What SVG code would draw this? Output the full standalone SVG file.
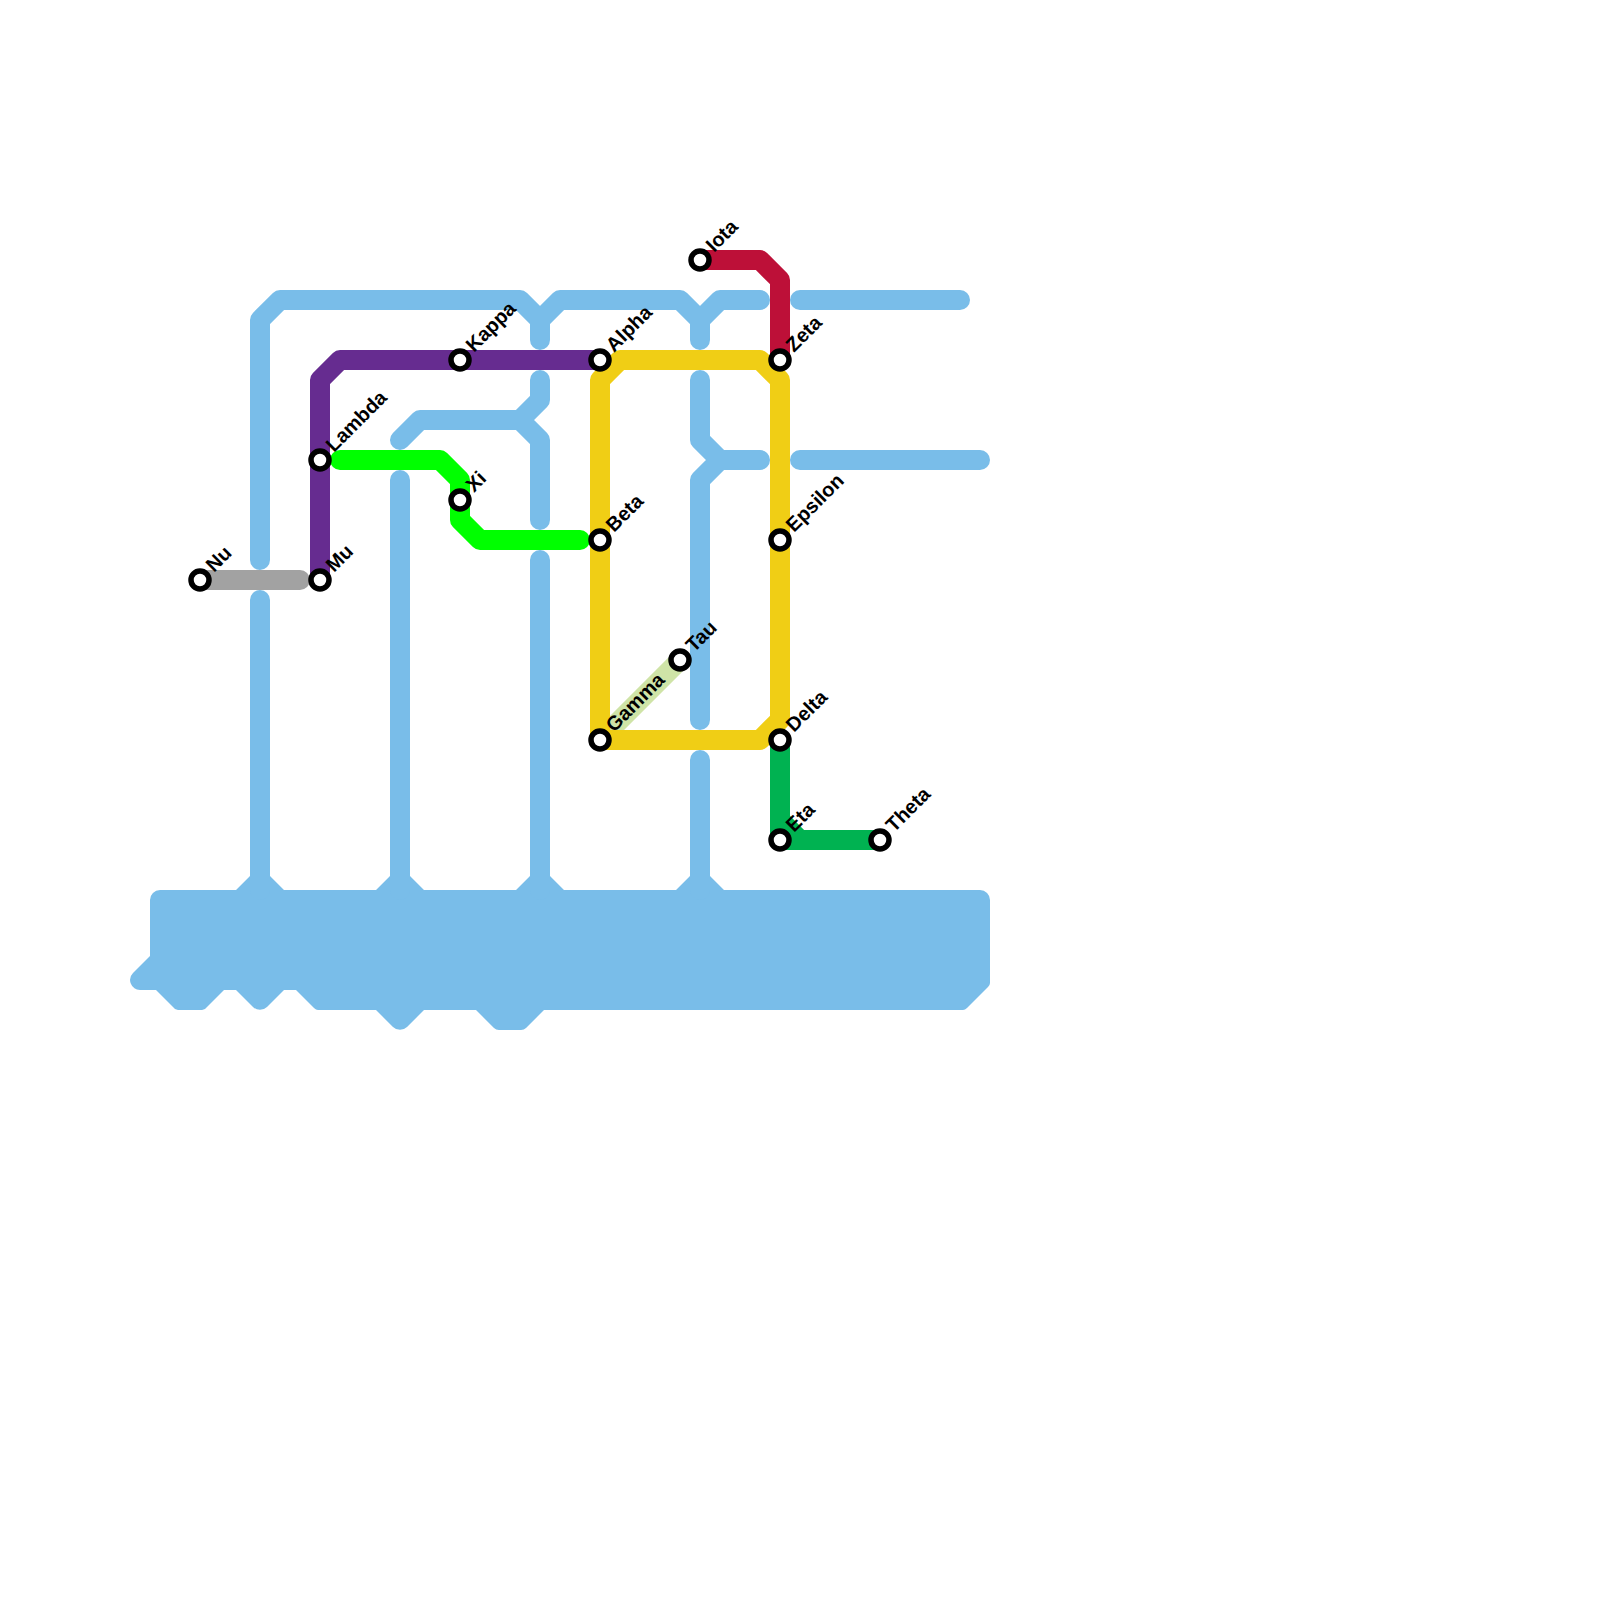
<svg xmlns="http://www.w3.org/2000/svg" width="1600" height="1600" viewBox="0 0 1600 1600">
<style>
.l{fill:none;stroke-width:20;stroke-linecap:round;stroke-linejoin:round}
.blue{stroke:#79bde9}
.st{fill:#fff;stroke:#000;stroke-width:5.5}
.lb{font-family:"Liberation Sans",Arial,sans-serif;font-weight:bold;font-size:20px;fill:#000;text-rendering:geometricPrecision}
</style>
<rect width="1600" height="1600" fill="#fff"/>
<g id="connectors">
<g id="line-blue">
<path fill="#79bde9" d="M150 900A10 10 0 0 1 160 890H236L250 876H270L284 890H376L390 876H410L424 890H516L530 876H550L564 890H676L690 876H710L724 890H980A10 10 0 0 1 990 900V983Q990 985 988 987L967 1008Q965 1010 963 1010H544L526 1028Q524 1030 521 1030H499Q496 1030 494 1028L476 1010H424L407 1027A10 10 0 0 1 393 1027L376 1010H318Q316 1010 314 1008L296 990H284L267 1007A10 10 0 0 1 253 1007L236 990H224L207 1007Q205 1010 202 1010H178Q175 1010 173 1007L156 990H140A10 10 0 0 1 133 973L150 956Z"/>
<path class="l blue" d="M260 560V320L280 300H520L540 320V340M540 320L560 300H680L700 320V340M700 320L720 300H760"/>
<path class="l blue" d="M800 300H960M800 460H980"/>
<path class="l blue" d="M700 380V440L720 460H760M720 460L700 480V720M700 760V890"/>
<path class="l blue" d="M540 380V400L520 420H420L400 440M520 420L540 440V520M540 560V890"/>
<path class="l blue" d="M400 480V890M260 600V890"/>
</g>
<path id="line-pale" class="l" stroke="#cfe4a7" d="M600 740L680 660"/>
<path id="line-grey" class="l" stroke="#a2a2a2" d="M200 580H300"/>
<path id="line-purple" class="l" stroke="#662c90" d="M320 580V380L340 360H600"/>
<path id="line-lime" class="l" stroke="#00ff00" d="M340 460H440L460 480V520L480 540H580"/>
<path id="line-red" class="l" stroke="#bd1038" d="M700 260H760L780 280V360"/>
<path id="line-yellow" class="l" stroke="#f0ce15" d="M600 740V380L620 360H760L780 380V720L760 740H600"/>
<path id="line-green" class="l" stroke="#00b251" d="M780 740V840M780 820L800 840H880M780 840H800"/>
</g>
<g id="alpha"><circle class="st" cx="600" cy="360" r="9"/><text class="lb" transform="translate(614 353) rotate(-45)">Alpha</text></g>
<g id="beta"><circle class="st" cx="600" cy="540" r="9"/><text class="lb" transform="translate(614 533) rotate(-45)">Beta</text></g>
<g id="gamma"><circle class="st" cx="600" cy="740" r="9"/><text class="lb" transform="translate(614 733) rotate(-45)">Gamma</text></g>
<g id="delta"><circle class="st" cx="780" cy="740" r="9"/><text class="lb" transform="translate(794 733) rotate(-45)">Delta</text></g>
<g id="epsilon"><circle class="st" cx="780" cy="540" r="9"/><text class="lb" transform="translate(794 533) rotate(-45)">Epsilon</text></g>
<g id="zeta"><circle class="st" cx="780" cy="360" r="9"/><text class="lb" transform="translate(794 353) rotate(-45)">Zeta</text></g>
<g id="eta"><circle class="st" cx="780" cy="840" r="9"/><text class="lb" transform="translate(794 833) rotate(-45)">Eta</text></g>
<g id="theta"><circle class="st" cx="880" cy="840" r="9"/><text class="lb" transform="translate(894 833) rotate(-45)">Theta</text></g>
<g id="iota"><circle class="st" cx="700" cy="260" r="9"/><text class="lb" transform="translate(714 253) rotate(-45)">Iota</text></g>
<g id="kappa"><circle class="st" cx="460" cy="360" r="9"/><text class="lb" transform="translate(474 353) rotate(-45)">Kappa</text></g>
<g id="lambda"><circle class="st" cx="320" cy="460" r="9"/><text class="lb" transform="translate(334 453) rotate(-45)">Lambda</text></g>
<g id="mu"><circle class="st" cx="320" cy="580" r="9"/><text class="lb" transform="translate(334 573) rotate(-45)">Mu</text></g>
<g id="nu"><circle class="st" cx="200" cy="580" r="9"/><text class="lb" transform="translate(214 573) rotate(-45)">Nu</text></g>
<g id="xi"><circle class="st" cx="460" cy="500" r="9"/><text class="lb" transform="translate(474 493) rotate(-45)">Xi</text></g>
<g id="tau"><circle class="st" cx="680" cy="660" r="9"/><text class="lb" transform="translate(694 653) rotate(-45)">Tau</text></g>
</svg>
